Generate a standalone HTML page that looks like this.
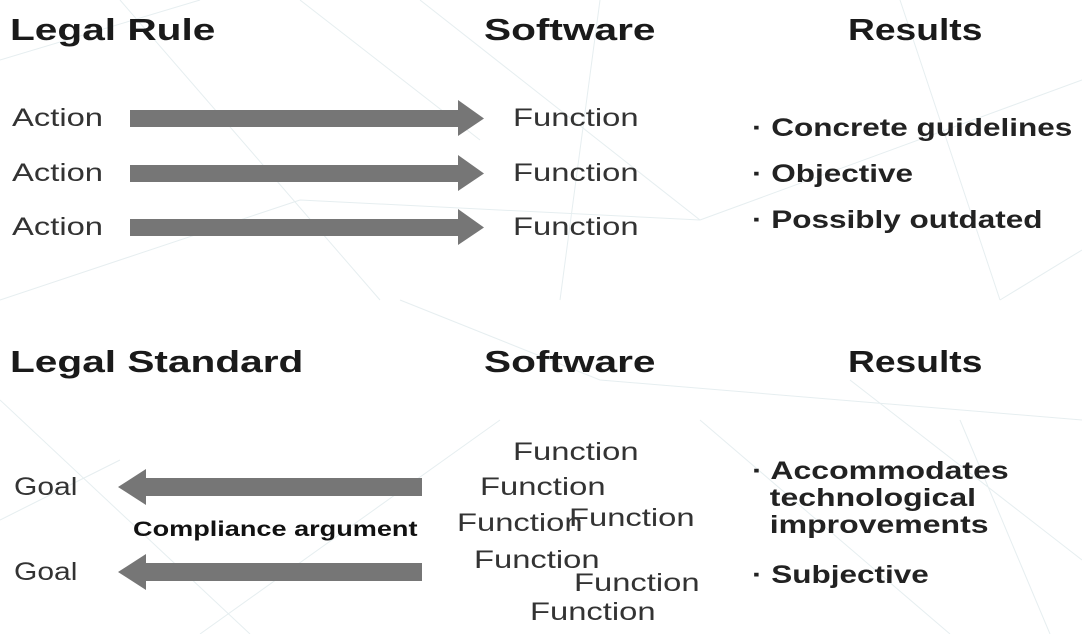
<!DOCTYPE html>
<html><head><style>
body{margin:0;width:1082px;height:634px;background:#fff;position:relative;overflow:hidden;font-family:"Liberation Sans",sans-serif;color:#222}
.t{position:absolute;white-space:nowrap;transform-origin:0 50%}
.h{font-size:31px;font-weight:bold;color:#1a1a1a;transform:scaleX(1.31)}
.f{font-size:25px;color:#333;transform:scaleX(1.31)}
.b{font-size:25px;font-weight:bold;color:#222;line-height:27px;transform:scaleX(1.26)}
</style></head><body>
<svg width="1082" height="634" style="position:absolute;left:0;top:0" stroke="#e6eef0" stroke-width="1" fill="none">
<path d="M0 60 L200 0 M120 0 L380 300 M300 0 L480 140 M420 0 L700 220 M600 0 L560 300 M700 220 L1082 80 M900 0 L1000 300 M1000 300 L1082 250 M0 300 L300 200 M300 200 L700 220 M0 400 L250 634 M200 634 L500 420 M700 420 L950 634 M850 380 L1082 560 M960 420 L1050 634 M0 520 L120 460 M600 380 L1082 420 M400 300 L600 380"/>
</svg>
<svg width="1082" height="634" style="position:absolute;left:0;top:0" fill="#767676">
<polygon points="130,110 458,110 458,100 484,118.5 458,136 458,127 130,127"/>
<polygon points="130,165 458,165 458,155 484,173.5 458,191 458,182 130,182"/>
<polygon points="130,219 458,219 458,209 484,227.5 458,245 458,236 130,236"/>
<polygon points="422,478 146,478 146,469 118,487 146,505 146,496 422,496"/>
<polygon points="422,563 146,563 146,554 118,572 146,590 146,581 422,581"/>
</svg>
<div class="t h" style="left:10px;top:12px">Legal Rule</div>
<div class="t h" style="left:484px;top:12px">Software</div>
<div class="t h" style="left:848px;top:12px;transform:scaleX(1.2)">Results</div>
<div class="t f" style="left:12px;top:104px">Action</div>
<div class="t f" style="left:12px;top:159px">Action</div>
<div class="t f" style="left:12px;top:213px">Action</div>
<div class="t f" style="left:513px;top:104px">Function</div>
<div class="t f" style="left:513px;top:159px">Function</div>
<div class="t f" style="left:513px;top:213px">Function</div>
<div class="t b" style="left:752px;top:115px">· Concrete guidelines</div>
<div class="t b" style="left:752px;top:161px">· Objective</div>
<div class="t b" style="left:752px;top:207px">· Possibly outdated</div>
<div class="t h" style="left:10px;top:344px">Legal Standard</div>
<div class="t h" style="left:484px;top:344px">Software</div>
<div class="t h" style="left:848px;top:344px;transform:scaleX(1.2)">Results</div>
<div class="t f" style="left:14px;top:473px;transform:scaleX(1.2)">Goal</div>
<div class="t f" style="left:14px;top:558px;transform:scaleX(1.2)">Goal</div>
<div class="t" style="left:133px;top:518px;font-size:21px;font-weight:bold;color:#111;transform:scaleX(1.29)">Compliance argument</div>
<div class="t f" style="left:513px;top:438px">Function</div>
<div class="t f" style="left:480px;top:473px">Function</div>
<div class="t f" style="left:457px;top:509px">Function</div>
<div class="t f" style="left:569px;top:504px">Function</div>
<div class="t f" style="left:474px;top:546px">Function</div>
<div class="t f" style="left:574px;top:569px">Function</div>
<div class="t f" style="left:530px;top:598px">Function</div>
<div class="t b" style="left:752px;top:458px;transform:scaleX(1.28)">· Accommodates<br>&nbsp;&nbsp;technological<br>&nbsp;&nbsp;improvements</div>
<div class="t b" style="left:752px;top:562px">· Subjective</div>
</body></html>
